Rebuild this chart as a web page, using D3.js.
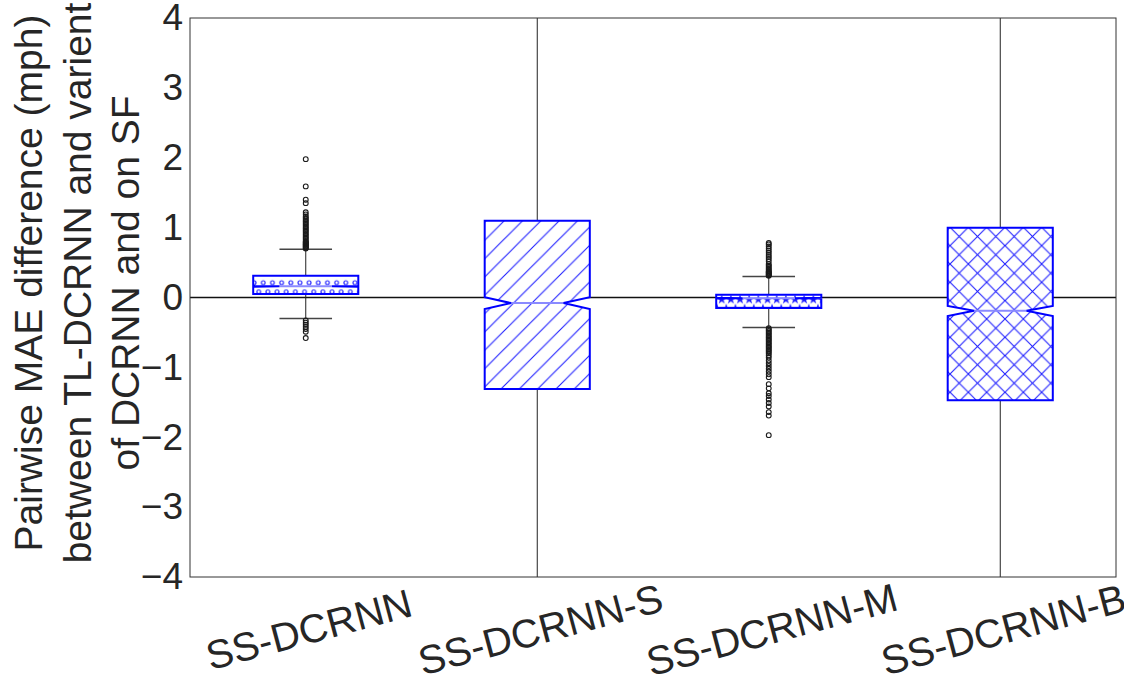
<!DOCTYPE html>
<html><head><meta charset="utf-8">
<script src="https://cdn.jsdelivr.net/npm/d3@7"></script>
<style>
body{margin:0;background:#fff}
svg text{font-family:"Liberation Sans",Arial,Helvetica,sans-serif;fill:#262626}
</style>
</head><body>
<svg id="chart" width="1124" height="681"></svg>
<script>
// ---- data ----
const categories = ["SS-DCRNN", "SS-DCRNN-S", "SS-DCRNN-M", "SS-DCRNN-B"];
const q1Values = [0.05, -1.31, -0.15, -1.47];
const q3Values = [0.31, 1.10, 0.04, 1.00];
const medianValues = [0.16, -0.08, -0.01, -0.19];
const notchLow = [0.155, -0.165, -0.015, -0.265];
const notchHigh = [0.165, 0.005, -0.005, -0.12];
const whiskerLow = [-0.30, -6.0, -0.43, -6.0];
const whiskerHigh = [0.69, 6.0, 0.30, 6.0];
const hatchTypes = ["oo", "/", "**", "x"];
const fliersSS = [0.70,0.71,0.72,0.73,0.74,0.75,0.76,0.77,0.78,0.79,0.80,0.82,0.84,0.86,0.88,0.90,0.92,0.94,0.96,0.98,1.00,1.02,1.04,1.06,1.08,1.10,1.12,1.14,1.16,1.19,1.22,1.35,1.40,1.59,1.98,
  -0.33,-0.36,-0.39,-0.42,-0.45,-0.49,-0.58];
const fliersS = [];
const fliersM = [0.31,0.32,0.33,0.34,0.35,0.36,0.37,0.38,0.40,0.42,0.44,0.46,0.48,0.52,0.55,0.58,0.61,0.64,0.67,0.70,0.73,0.76,0.78,
  -0.44,-0.46,-0.48,-0.50,-0.52,-0.54,-0.56,-0.58,-0.60,-0.62,-0.64,-0.66,-0.68,-0.70,-0.72,-0.74,-0.76,-0.78,-0.80,-0.83,-0.86,-0.90,
  -0.94,-0.98,-1.02,-1.06,-1.10,-1.14,-1.24,-1.30,-1.37,-1.41,-1.46,-1.51,-1.56,-1.64,-1.69,-1.97];
const fliersB = [];
const fliers = [fliersSS, fliersS, fliersM, fliersB];
const yTicks = [-4, -3, -2, -1, 0, 1, 2, 3, 4];
const yLabelLines = ["Pairwise MAE difference (mph)", "between TL-DCRNN and varient", "of DCRNN and on SF"];

// ---- layout ----
const L = 190, R = 1116, T = 18, B = 577;
const svg = d3.select("#chart");
const x = d3.scaleBand().domain(categories).range([L, R]);
const y = d3.scaleLinear().domain([-4, 4]).range([B, T]);
const cx = c => x(c) + x.bandwidth() / 2;
const hw = x.bandwidth() * 0.227;
const boxes = categories.map((c, i) => ({c, i, q1: q1Values[i], q3: q3Values[i], med: medianValues[i],
  nlo: notchLow[i], nhi: notchHigh[i], wlo: whiskerLow[i], whi: whiskerHigh[i], hatch: hatchTypes[i], fl: fliers[i]}));

const defs = svg.append("defs");
defs.append("clipPath").attr("id", "plotclip").append("rect")
  .attr("x", L).attr("y", T).attr("width", R - L).attr("height", B - T);

const HC = "#1f1fff";
const s = 18.33, s2 = s / 2;
// '/' hatch
const pSlash = defs.append("pattern").attr("id", "h-/").attr("patternUnits", "userSpaceOnUse")
  .attr("x", 505).attr("y", 220).attr("width", s).attr("height", s);
pSlash.append("path").attr("d", `M-2,2L2,-2M0,${s}L${s},0M${s-2},${s+2}L${s+2},${s-2}`)
  .attr("stroke", HC).attr("stroke-width", 1.1).attr("fill", "none");
// 'x' hatch
const pX = defs.append("pattern").attr("id", "h-x").attr("patternUnits", "userSpaceOnUse")
  .attr("x", 950).attr("y", 227.3).attr("width", s).attr("height", s);
pX.append("path").attr("d", `M-2,2L2,-2M0,${s}L${s},0M${s-2},${s+2}L${s+2},${s-2}M0,0L${s},${s}M${s-2},-2L${s+2},2M-2,${s-2}L2,${s+2}`)
  .attr("stroke", HC).attr("stroke-width", 1.1).attr("fill", "none");
// 'oo' hatch
const pO = defs.append("pattern").attr("id", "h-oo").attr("patternUnits", "userSpaceOnUse")
  .attr("x", 263.3).attr("y", 282.7).attr("width", s2).attr("height", s);
[[0,0],[s2,0],[0,s],[s2,s],[s2/2,s2]].forEach(([a,b]) =>
  pO.append("circle").attr("cx", a).attr("cy", b).attr("r", 1.9).attr("fill", "none").attr("stroke", HC).attr("stroke-width", 1.1));
// '**' hatch
const pS = defs.append("pattern").attr("id", "h-**").attr("patternUnits", "userSpaceOnUse")
  .attr("x", 721.7).attr("y", 299.5).attr("width", s2).attr("height", s);
const star = d3.symbol(d3.symbolStar, 30)();
[[0,0],[s2,0],[0,s],[s2,s],[s2/2,s2]].forEach(([a,b]) =>
  pS.append("path").attr("d", star).attr("transform", `translate(${a},${b})`).attr("fill", HC));

// ---- y axis ----
const yAxis = svg.append("g").attr("transform", `translate(${L},0)`)
  .call(d3.axisLeft(y).tickValues(yTicks).tickSize(0).tickPadding(7)
    .tickFormat(d => d < 0 ? "\u2212" + Math.abs(d) : String(d)));
yAxis.select(".domain").remove();
yAxis.selectAll("text").attr("font-size", 37).attr("fill", "#262626")
  .style("font-family", '"Liberation Sans", Arial, sans-serif');

// ---- x axis labels ----
const xAxis = svg.append("g").attr("transform", `translate(0,${B})`)
  .call(d3.axisBottom(x).tickSize(0).tickFormat(""));
xAxis.select(".domain").remove();
xAxis.selectAll(".tick").append("text")
  .attr("transform", "translate(3,52) rotate(-15)")
  .attr("text-anchor", "middle").attr("dy", "0.36em")
  .attr("font-size", 40).attr("fill", "#262626")
  .text(d => d);

// ---- y label ----
const yl = svg.append("text").attr("transform", `translate(0,283) rotate(-90)`)
  .attr("text-anchor", "middle").attr("font-size", 39);
yl.selectAll("tspan").data(yLabelLines).join("tspan")
  .attr("x", 0).attr("y", (d, i) => 42 + i * 48.5).text(d => d);

// ---- plot ----
const plot = svg.append("g").attr("clip-path", "url(#plotclip)");
plot.append("line").attr("x1", L).attr("x2", R).attr("y1", y(0)).attr("y2", y(0))
  .attr("stroke", "#111").attr("stroke-width", 1.6);

// whiskers, caps, fliers
plot.selectAll(".wh").data(boxes).join("g").each(function(d) {
  const g = d3.select(this);
  g.append("line").attr("x1", cx(d.c)).attr("x2", cx(d.c)).attr("y1", y(d.q3)).attr("y2", y(d.whi))
    .attr("stroke", "#222").attr("stroke-width", 1);
  g.append("line").attr("x1", cx(d.c)).attr("x2", cx(d.c)).attr("y1", y(d.q1)).attr("y2", y(d.wlo))
    .attr("stroke", "#222").attr("stroke-width", 1);
  [d.whi, d.wlo].forEach(v => g.append("line").attr("x1", cx(d.c) - hw / 2).attr("x2", cx(d.c) + hw / 2)
    .attr("y1", y(v)).attr("y2", y(v)).attr("stroke", "#444").attr("stroke-width", 1.4));
  g.selectAll("circle").data(d.fl).join("circle").attr("cx", cx(d.c)).attr("cy", v => y(v))
    .attr("r", 2.4).attr("fill", "none").attr("stroke", "#1a1a1a").attr("stroke-width", 1.1);
});

// boxes
const boxPath = d => {
  const c = cx(d.c);
  return `M${c-hw},${y(d.q1)}L${c-hw},${y(d.nlo)}L${c-hw/2},${y(d.med)}L${c-hw},${y(d.nhi)}L${c-hw},${y(d.q3)}` +
    `L${c+hw},${y(d.q3)}L${c+hw},${y(d.nhi)}L${c+hw/2},${y(d.med)}L${c+hw},${y(d.nlo)}L${c+hw},${y(d.q1)}Z`;
};
const bx = plot.selectAll(".box").data(boxes).join("g");
bx.append("path").attr("d", boxPath).attr("fill", "#fff");
bx.append("path").attr("d", boxPath).attr("fill", d => `url(#h-${d.hatch})`);
bx.append("line").attr("x1", d => cx(d.c) - hw / 2).attr("x2", d => cx(d.c) + hw / 2)
  .attr("y1", d => y(d.med)).attr("y2", d => y(d.med)).attr("stroke", "#8a8aff").attr("stroke-width", 2);
bx.append("path").attr("d", boxPath).attr("fill", "none").attr("stroke", "#0000ff").attr("stroke-width", 2);

// frame
svg.append("rect").attr("x", L).attr("y", T).attr("width", R - L).attr("height", B - T)
  .attr("fill", "none").attr("stroke", "#333").attr("stroke-width", 1);
</script>
</body></html>
